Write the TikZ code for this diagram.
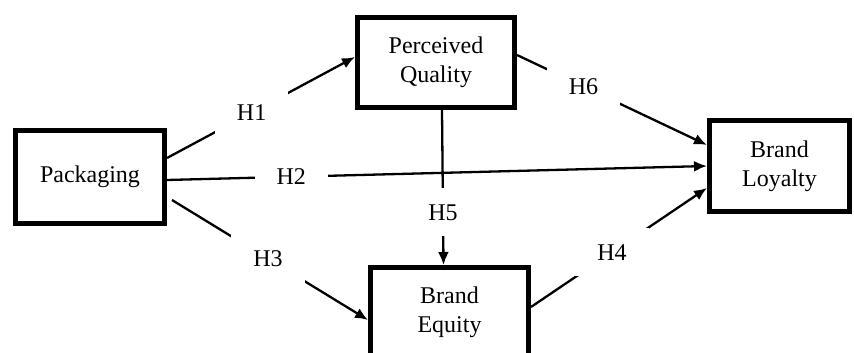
\documentclass[tikz,border=0pt]{standalone}
\usepackage{fontspec}
\setmainfont{Liberation Serif}
\usetikzlibrary{arrows.meta}
\begin{document}
\begin{tikzpicture}[x=1pt,y=1pt,
  box/.style={draw,line width=5pt,align=center,font=\fontsize{24}{29}\selectfont},
  hyp/.style={fill=white,font=\fontsize{24}{29}\selectfont,inner xsep=22pt,inner ysep=16pt},
  link/.style={line width=2.3pt},
  arr/.style={link,-{Latex[length=13pt,width=11pt]}}]
\useasboundingbox (0,0) rectangle (854,353);
\node[box,minimum width=149pt,minimum height=93pt] (pack) at (90,176) {Packaging};
\node[box,minimum width=157pt,minimum height=90pt] (pq) at (436,290.5) {Perceived\\Quality};
\node[box,minimum width=140pt,minimum height=91pt] (bl) at (779.5,187) {Brand\\Loyalty};
\node[box,minimum width=158pt,minimum height=90pt] (be) at (449.5,40.5) {Brand\\Equity};
\draw[arr] ([yshift=19pt]pack.east) -- node[pos=.45,hyp] {H1} ([yshift=5.5pt]pq.west);
\draw[arr] ([yshift=-3pt]pack.east) -- node[pos=.23,hyp] {H2} (bl.west);
\draw[arr] ([xshift=5pt,yshift=-23pt]pack.east) -- node[pos=.49,hyp] {H3} ([yshift=-7.5pt]be.west);
\draw[arr] ([yshift=5.5pt]be.east) -- node[pos=.46,hyp] {H4} ([yshift=-22pt]bl.west);
\draw[arr] ([xshift=6pt]pq.south) -- node[pos=.66,hyp] {H5} ([xshift=-6pt]be.north);
\draw[arr] ([yshift=7.5pt]pq.east) -- node[pos=.35,hyp] {H6} ([yshift=21pt]bl.west);
\end{tikzpicture}
\end{document}
